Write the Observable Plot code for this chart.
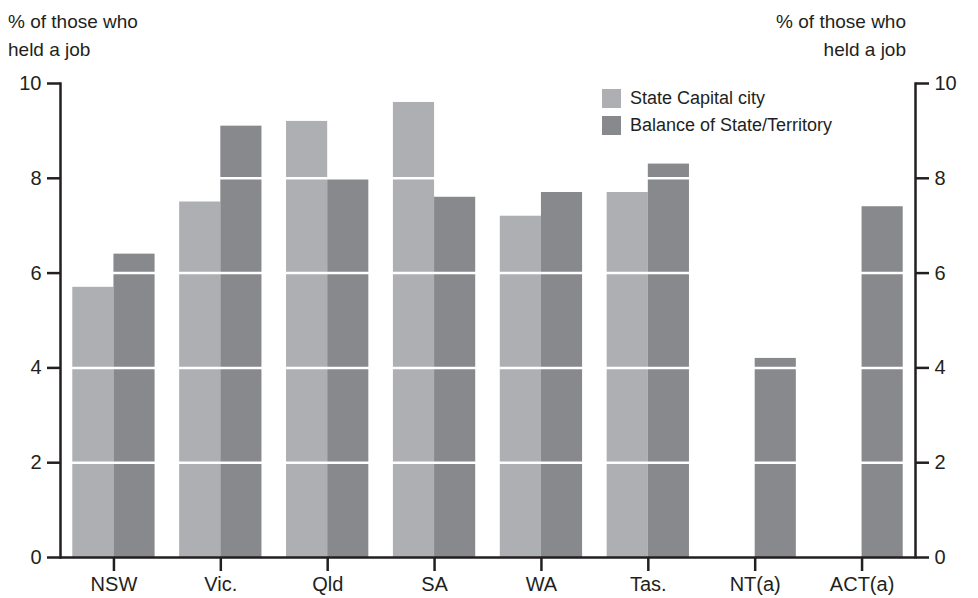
<!DOCTYPE html>
<html><head><meta charset="utf-8">
<script src="https://cdn.jsdelivr.net/npm/d3@7"></script>
<script src="https://cdn.jsdelivr.net/npm/@observablehq/plot@0.6"></script>
<style>
body{margin:0;background:#fff;}
#wrap{position:relative;width:978px;height:598px;font-family:"Liberation Sans",Arial,sans-serif;color:#231f20;overflow:hidden;}
#wrap svg{position:absolute;left:0;top:0;}
.ytitle{position:absolute;top:8px;font-size:19px;line-height:28px;white-space:nowrap;}
#ytl{left:8px;text-align:left;}
#ytr{right:72px;text-align:right;}
#legend{position:absolute;left:602px;top:85px;font-size:18px;}
.li{display:flex;align-items:center;height:27px;}
.sw{width:19px;height:19px;margin-right:9px;}
</style></head><body><div id="wrap"></div>
<script>
const states = ["NSW","Vic.","Qld","SA","WA","Tas.","NT(a)","ACT(a)"];
const capital = [5.7, 7.5, 9.2, 9.6, 7.2, 7.7, null, null];
const balance = [6.4, 9.1, 8.0, 7.6, 7.7, 8.3, 4.2, 7.4];
const yTicks = [0, 2, 4, 6, 8, 10];
const gridTicks = [2, 4, 6, 8];
const seriesNames = ["State Capital city", "Balance of State/Territory"];
const colors = ["#aeafb3", "#88898d"];
const yTitle = ["% of those who", "held a job"];

const W = 978, H = 598, mL = 60, mR = 63, mT = 83, mB = 41;
const xOpts = {type: "band", domain: states, paddingInner: 0.23, paddingOuter: 0.115, round: false};
const bw = Plot.scale({x: {...xOpts, range: [mL, W - mR]}}).bandwidth;

const capData = states.map((s, i) => ({state: s, value: capital[i]})).filter(d => d.value != null);
const balData = states.map((s, i) => ({state: s, value: balance[i]})).filter(d => d.value != null);

const chart = Plot.plot({
  width: W, height: H,
  marginLeft: mL, marginRight: mR, marginTop: mT, marginBottom: mB,
  style: {fontFamily: '"Liberation Sans", Arial, sans-serif', color: "#231f20", background: "transparent"},
  x: {...xOpts, label: null},
  y: {domain: [0, 10], label: null},
  marks: [
    Plot.barY(capData, {x: "state", y: "value", fill: colors[0], insetRight: bw / 2, insetLeft: 0}),
    Plot.barY(balData, {x: "state", y: "value", fill: colors[1], insetLeft: bw / 2, insetRight: 0}),
    Plot.gridY(gridTicks, {stroke: "#fff", strokeOpacity: 1, strokeWidth: 2.5}),
    Plot.ruleY([0], {stroke: "#231f20", strokeWidth: 2.5}),
    Plot.frame({anchor: "left", stroke: "#231f20", strokeWidth: 2.5}),
    Plot.frame({anchor: "right", stroke: "#231f20", strokeWidth: 2.5}),
    Plot.axisX({tickSize: 14, tickPadding: 5, fontSize: 20, strokeWidth: 2.5, label: null}),
    Plot.axisY({anchor: "left", ticks: yTicks, tickSize: 13, tickPadding: 6, fontSize: 20, strokeWidth: 2.5, label: null}),
    Plot.axisY({anchor: "right", ticks: yTicks, tickSize: 13, tickPadding: 6, fontSize: 20, strokeWidth: 2.5, label: null})
  ]
});

const wrap = document.getElementById("wrap");
wrap.appendChild(chart);
const tl = document.createElement("div"); tl.className = "ytitle"; tl.id = "ytl"; tl.innerHTML = yTitle.join("<br>");
const tr = document.createElement("div"); tr.className = "ytitle"; tr.id = "ytr"; tr.innerHTML = yTitle.join("<br>");
wrap.appendChild(tl); wrap.appendChild(tr);
const lg = document.createElement("div"); lg.id = "legend";
seriesNames.forEach((n, i) => {
  const row = document.createElement("div"); row.className = "li";
  const sw = document.createElement("div"); sw.className = "sw"; sw.style.background = colors[i];
  const t = document.createElement("span"); t.textContent = n;
  row.appendChild(sw); row.appendChild(t); lg.appendChild(row);
});
wrap.appendChild(lg);
</script></body></html>
